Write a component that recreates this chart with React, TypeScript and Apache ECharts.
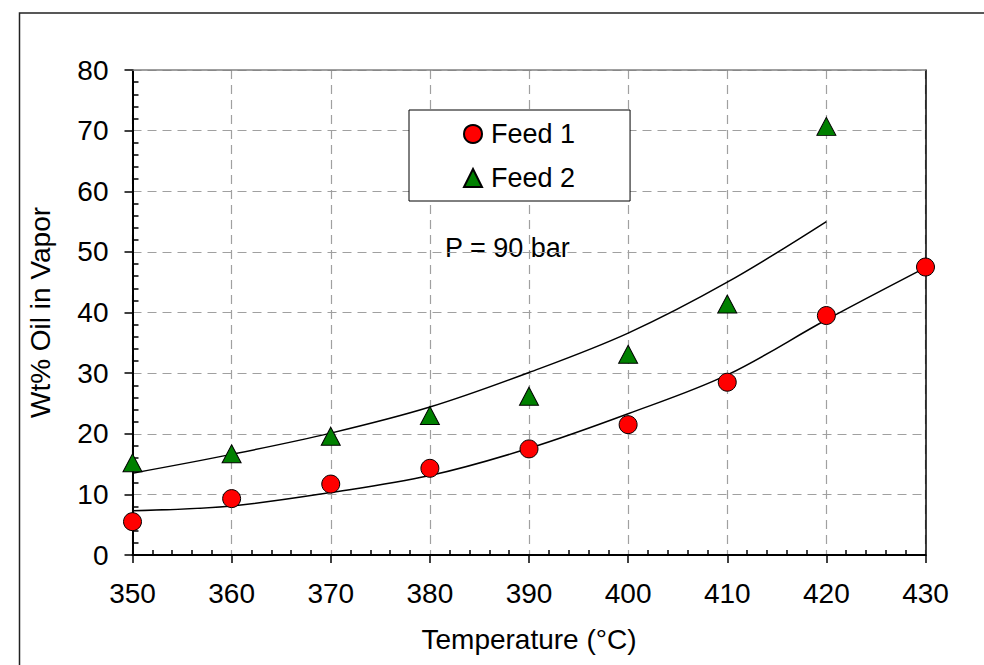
import React, { useEffect, useRef } from "react";
import * as echarts from "echarts";

const FONT = "'Liberation Sans', Arial, sans-serif";

// Measured data (Temperature °C → Wt% oil in vapor)
const temps1 = [350, 360, 370, 380, 390, 400, 410, 420, 430];
const feed1 = [5.5, 9.3, 11.7, 14.3, 17.5, 21.5, 28.5, 39.5, 47.5];
const temps2 = [350, 360, 370, 380, 390, 400, 410, 420];
const feed2 = [15.2, 16.7, 19.6, 23.0, 26.2, 33.1, 41.4, 70.7];

// Trend curves
const fit1 = [7.3, 8.1, 10.3, 13.1, 17.6, 23.3, 29.7, 38.8, 47.4];
const fit2 = [13.5, 16.6, 20.1, 24.4, 30.1, 36.6, 45.0, 55.0];

const seriesNames = ["Feed 1", "Feed 2"];
const annotation = "P = 90 bar";
const xTitle = "Temperature (°C)";
const yTitle = "Wt% Oil in Vapor";

const pairs = (xs: number[], ys: number[]) => xs.map((x, i) => [x, ys[i]]);

export default function App() {
  const ref = useRef<HTMLDivElement>(null);

  useEffect(() => {
    if (!ref.current) return;
    const chart = echarts.init(ref.current, undefined, { renderer: "svg" });

    const grid = "#a0a0a0";
    const option: any = {
      animation: false,
      backgroundColor: "#ffffff",
      textStyle: { fontFamily: FONT },
      grid: { left: 132.5, right: 58.5, top: 70, bottom: 110 },
      xAxis: [
        {
          type: "value",
          min: 350,
          max: 430,
          interval: 10,
          name: xTitle,
          nameLocation: "middle",
          nameGap: 70,
          nameTextStyle: { fontSize: 28, color: "#000", fontFamily: FONT },
          axisLine: { show: true, onZero: false, lineStyle: { color: "#000", width: 2 } },
          axisTick: { show: true, length: 8, lineStyle: { color: "#000", width: 1.5 } },
          minorTick: { show: true, splitNumber: 5, length: -5, lineStyle: { color: "#000", width: 1.5 } },
          axisLabel: { fontSize: 28, color: "#000", margin: 24, fontFamily: FONT },
          splitLine: { show: true, lineStyle: { color: grid, width: 1.2, type: [9, 6] } },
        },
        {
          type: "value",
          position: "top",
          min: 350,
          max: 430,
          interval: 10,
          axisLine: { show: true, onZero: false, lineStyle: { color: "#808080", width: 1.5 } },
          axisTick: { show: false },
          axisLabel: { show: false },
          splitLine: { show: false },
        },
      ],
      yAxis: [
        {
          type: "value",
          min: 0,
          max: 80,
          interval: 10,
          name: yTitle,
          nameLocation: "middle",
          nameGap: 78,
          nameTextStyle: { fontSize: 28, color: "#000", fontFamily: FONT },
          axisLine: { show: true, onZero: false, lineStyle: { color: "#000", width: 2 } },
          axisTick: { show: true, length: 8, lineStyle: { color: "#000", width: 1.5 } },
          minorTick: { show: true, splitNumber: 5, length: -6, lineStyle: { color: "#000", width: 1.5 } },
          axisLabel: { fontSize: 28, color: "#000", margin: 24, fontFamily: FONT },
          splitLine: { show: true, lineStyle: { color: grid, width: 1.2, type: [9, 6] } },
        },
        {
          type: "value",
          position: "right",
          min: 0,
          max: 80,
          interval: 10,
          axisLine: { show: true, onZero: false, lineStyle: { color: "#000", width: 1.5 } },
          axisTick: { show: false },
          axisLabel: { show: false },
          splitLine: { show: false },
        },
      ],
      legend: {
        data: [
          { name: seriesNames[0], icon: "circle" },
          { name: seriesNames[1], icon: "triangle" },
        ],
        orient: "vertical",
        left: 409,
        top: 110,
        padding: [10, 55, 9, 54],
        itemGap: 16,
        itemWidth: 18,
        itemHeight: 18,
        borderColor: "#000",
        borderWidth: 1,
        borderRadius: 0,
        backgroundColor: "#fff",
        textStyle: { fontSize: 27, color: "#000", fontFamily: FONT, lineHeight: 28, padding: [0, 0, 0, 4] },
      },
      graphic: [
        {
          type: "rect",
          left: 17,
          top: 10.5,
          shape: { x: 0, y: 0, width: 1100, height: 800 },
          style: { fill: "none", stroke: "#222", lineWidth: 1.5 },
          silent: true,
          z: -10,
        },
        {
          type: "text",
          left: 445,
          top: 234,
          style: { text: annotation, fontSize: 27, fontFamily: FONT, fill: "#000" },
        },
      ],
      series: [
        {
          name: "fit1",
          type: "line",
          data: pairs(temps1, fit1),
          smooth: 0.35,
          showSymbol: false,
          lineStyle: { color: "#000", width: 1.5 },
          silent: true,
          z: 2,
        },
        {
          name: "fit2",
          type: "line",
          data: pairs(temps2, fit2),
          smooth: 0.35,
          showSymbol: false,
          lineStyle: { color: "#000", width: 1.5 },
          silent: true,
          z: 2,
        },
        {
          name: seriesNames[0],
          type: "scatter",
          data: pairs(temps1, feed1),
          symbol: "circle",
          symbolSize: 18,
          itemStyle: { color: "#ff0000", borderColor: "#000", borderWidth: 1, opacity: 1 },
          z: 3,
        },
        {
          name: seriesNames[1],
          type: "scatter",
          data: pairs(temps2, feed2),
          symbol: "triangle",
          symbolSize: [19, 18],
          itemStyle: { color: "#008000", borderColor: "#000", borderWidth: 1, opacity: 1 },
          z: 3,
        },
      ],
    };

    chart.setOption(option);
    return () => chart.dispose();
  }, []);

  return (
    <div
      ref={ref}
      style={{ position: "fixed", left: 0, top: 0, width: 984, height: 665, background: "#fff" }}
    />
  );
}
